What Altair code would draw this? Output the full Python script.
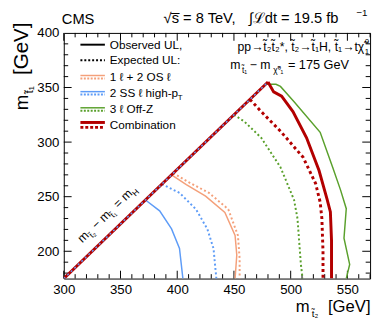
import altair as alt
import pandas as pd

# ---------------- data ----------------
diag_x = [300, 480]
diag_y = [175, 355]

comb_obs_x = [480, 485, 492, 502, 514, 525, 532, 535, 536, 536]
comb_obs_y = [355, 346, 342, 328, 304, 274, 248, 236, 210, 175]
comb_exp_x = [464, 466, 474, 491, 511, 522, 526, 527.5, 528.5, 528.5]
comb_exp_y = [339, 337, 328, 310, 286, 262, 245, 230, 200, 175]

off_obs_x = [479, 487, 491, 503, 526, 537, 544, 549, 547, 552, 549]
off_obs_y = [353, 353, 351, 337, 309, 277, 256, 239, 212, 188, 175]
off_exp_x = [450, 459, 474, 491, 503, 506, 509, 510.5]
off_exp_y = [325, 319, 304, 277, 247, 230, 188, 175]

os_obs_x = [395, 408, 425, 442, 451, 452.5, 451]
os_obs_y = [270, 261, 250.5, 235.5, 214.5, 196.5, 175]
os_exp_x = [396.5, 410.5, 428, 445, 453.5, 455, 455]
os_exp_y = [271.5, 263, 253.5, 238.5, 214.5, 193.5, 175]

ss_obs_x = [372, 384.5, 395, 402, 405]
ss_obs_y = [247, 237, 220.5, 202.5, 175]
ss_exp_x = [386.5, 402, 416.5, 426.5, 432, 434.5]
ss_exp_y = [261.5, 253.5, 238.5, 220.5, 202.5, 175]

legend_labels = ["Observed UL,", "Expected UL:", "1 ℓ + 2 OS ℓ", "2 SS ℓ high-p", "3 ℓ Off-Z", "Combination"]

x_domain = [300, 570]
y_domain = [175, 400]
x_tick_labels = [300, 350, 400, 450, 500, 550]
y_tick_labels = [200, 250, 300, 350, 400]
x_minor = [v for v in range(300, 571, 10) if v % 50]
y_minor = [v for v in range(180, 400, 10) if v % 50]
x_major = x_tick_labels
y_major = [200, 250, 300, 350]

# ---------------- styling ----------------
W, H = 313, 251
FONT = "Liberation Sans"
RED = "#b30000"
ORANGE = "#f4a07a"
BLUE = "#5e9cf7"
GREEN = "#5aa02c"

xs = alt.Scale(domain=x_domain, nice=False, zero=False)
ys = alt.Scale(domain=y_domain, nice=False, zero=False)
xaxis = alt.Axis(values=x_tick_labels, title=None, grid=False, domain=False, ticks=False,
                 labelFontSize=13.5, labelPadding=4, labelFont=FONT, labelColor="black",
                 labelFlush=False, labelOverlap=False)
yaxis = alt.Axis(values=y_tick_labels, title=None, grid=False, domain=False, ticks=False,
                 labelFontSize=13.5, labelPadding=5, labelFont=FONT, labelColor="black",
                 labelFlush=False, labelOverlap=False)


def X(f):
    return alt.X(f"{f}:Q", scale=xs, axis=xaxis)


def Y(f):
    return alt.Y(f"{f}:Q", scale=ys, axis=yaxis)


def curve(xv, yv, color, width, dash=None):
    df = pd.DataFrame({"x": xv, "y": yv, "i": list(range(len(xv)))})
    kw = dict(color=color, strokeWidth=width, clip=True)
    if dash:
        kw["strokeDash"] = dash
    return alt.Chart(df).mark_line(**kw).encode(x=X("x"), y=Y("y"), order="i:Q")


def xticks(vals, length, top):
    df = pd.DataFrame({"v": vals})
    y0, y1 = (0, length) if top else (H, H - length)
    return alt.Chart(df).mark_rule(color="black", strokeWidth=1).encode(
        x=X("v"), y=alt.value(y0), y2=alt.value(y1))


def yticks(vals, length, right):
    df = pd.DataFrame({"v": vals})
    x0, x1 = (W, W - length) if right else (0, length)
    return alt.Chart(df).mark_rule(color="black", strokeWidth=1).encode(
        y=Y("v"), x=alt.value(x0), x2=alt.value(x1))


def txt(t, x, y, fs, align="left", baseline="alphabetic", angle=None, dx=0, dy=0):
    kw = dict(text=t, fontSize=fs, font=FONT, color="black", align=align, baseline=baseline)
    if angle is not None:
        kw["angle"] = angle
    if dx:
        kw["dx"] = dx
    if dy:
        kw["dy"] = dy
    return alt.Chart().mark_text(**kw).encode(x=alt.value(x), y=alt.value(y))


def sample(y, color, width, dash=None):
    kw = dict(color=color, strokeWidth=width)
    if dash:
        kw["strokeDash"] = dash
    return alt.Chart().mark_rule(**kw).encode(x=alt.value(17), x2=alt.value(42), y=alt.value(y))


layers = []
# ticks
layers += [xticks(x_minor, 4.5, False), xticks(x_major, 8, False),
           xticks(x_minor, 4.5, True), xticks(x_major, 8, True),
           yticks(y_minor, 4.5, False), yticks(y_major, 8, False),
           yticks(y_minor, 4.5, True), yticks(y_major, 8, True)]

# curves
layers += [
    curve(ss_obs_x, ss_obs_y, BLUE, 1.5),
    curve(ss_exp_x, ss_exp_y, BLUE, 2, [2, 2.5]),
    curve(os_obs_x, os_obs_y, ORANGE, 1.5),
    curve(os_exp_x, os_exp_y, ORANGE, 2, [2, 2.5]),
    curve(off_obs_x, off_obs_y, GREEN, 1.5),
    curve(off_exp_x, off_exp_y, GREEN, 2, [2, 2.5]),
    curve(comb_exp_x, comb_exp_y, RED, 3, [3, 3]),
    curve(comb_obs_x, comb_obs_y, RED, 3),
    curve(diag_x, diag_y, RED, 3),
    curve(diag_x, diag_y, BLUE, 1.5, [2, 3]),
]

# legend
rows = [12, 28, 45, 61.5, 78, 94]
layers += [
    sample(rows[0], "black", 2),
    sample(rows[1], "black", 2, [2, 2]),
    sample(rows[2] - 1.5, ORANGE, 1.5), sample(rows[2] + 1.5, ORANGE, 2, [2, 1.5]),
    sample(rows[3] - 1.5, BLUE, 1.5), sample(rows[3] + 1.5, BLUE, 2, [2, 1.5]),
    sample(rows[4] - 1.5, GREEN, 1.5), sample(rows[4] + 1.5, GREEN, 2, [2, 1.5]),
    sample(rows[5] - 2.5, RED, 3), sample(rows[5] + 2.5, RED, 3, [3, 2]),
]
for lab, ry in zip(legend_labels, rows):
    layers.append(txt(lab, 47, ry, 12, baseline="middle"))
layers.append(txt("T", 116.5, rows[3] + 5, 8, baseline="middle"))

# header
layers += [
    txt("CMS", -2, -9.5, 15),
    txt("√s̅ = 8 TeV,", 102, -10.5, 15),
    txt("∫ℒdt = 19.5 fb", 189, -10.5, 15),
    txt("−1", 299, -17, 10),
]

# process annotation
layers += [
    txt("pp→t̃₂t̃₂*, t̃₂→t̃₁H, t̃₁→tχ̃", 307, 18.5, 12.5, align="right"),
    txt("0", 307.5, 11, 8),
    txt("1", 307.5, 22, 8),
    txt("m", 170, 36.5, 12.5),
    txt("t̃₁", 182, 40.5, 8.5),
    txt("− m", 190, 36.5, 12.5),
    txt("χ̃⁰₁", 214, 40.5, 8.5),
    txt("= 175 GeV", 229, 36.5, 13),
]

# x title
layers += [
    txt("m", 237, 285, 17),
    txt("t̃₂", 253.5, 290, 10),
    txt("[GeV]", 270, 285, 17),
]

# y title (rotated)
yax, yay = -37, 79
layers += [
    txt("m", yax, yay, 19, angle=270),
    txt("t̃₁", yax, yay, 12, angle=270, dx=17, dy=6),
    txt("[GeV]", yax, yay, 21, angle=270, dx=36),
]

# diagonal label (rotated)
dax, day = 19, 215
ang = 316
layers += [
    txt("m", dax, day, 12.5, angle=ang),
    txt("t̃₂", dax, day, 8.5, angle=ang, dx=11, dy=3.5),
    txt("− m", dax, day, 12.5, angle=ang, dx=20),
    txt("t̃₁", dax, day, 8.5, angle=ang, dx=41, dy=3.5),
    txt("= m", dax, day, 12.5, angle=ang, dx=51),
    txt("H", dax, day, 8.5, angle=ang, dx=72, dy=3.5),
]

chart = alt.layer(*layers).properties(
    width=W, height=H,
    autosize=alt.AutoSizeParams(type="none"),
    padding={"left": 57, "top": 22, "right": 4, "bottom": 45},
    background="white",
).configure_view(stroke="black", strokeWidth=1)

chart.save("out.html", embed_options={"renderer": "svg", "actions": False})
